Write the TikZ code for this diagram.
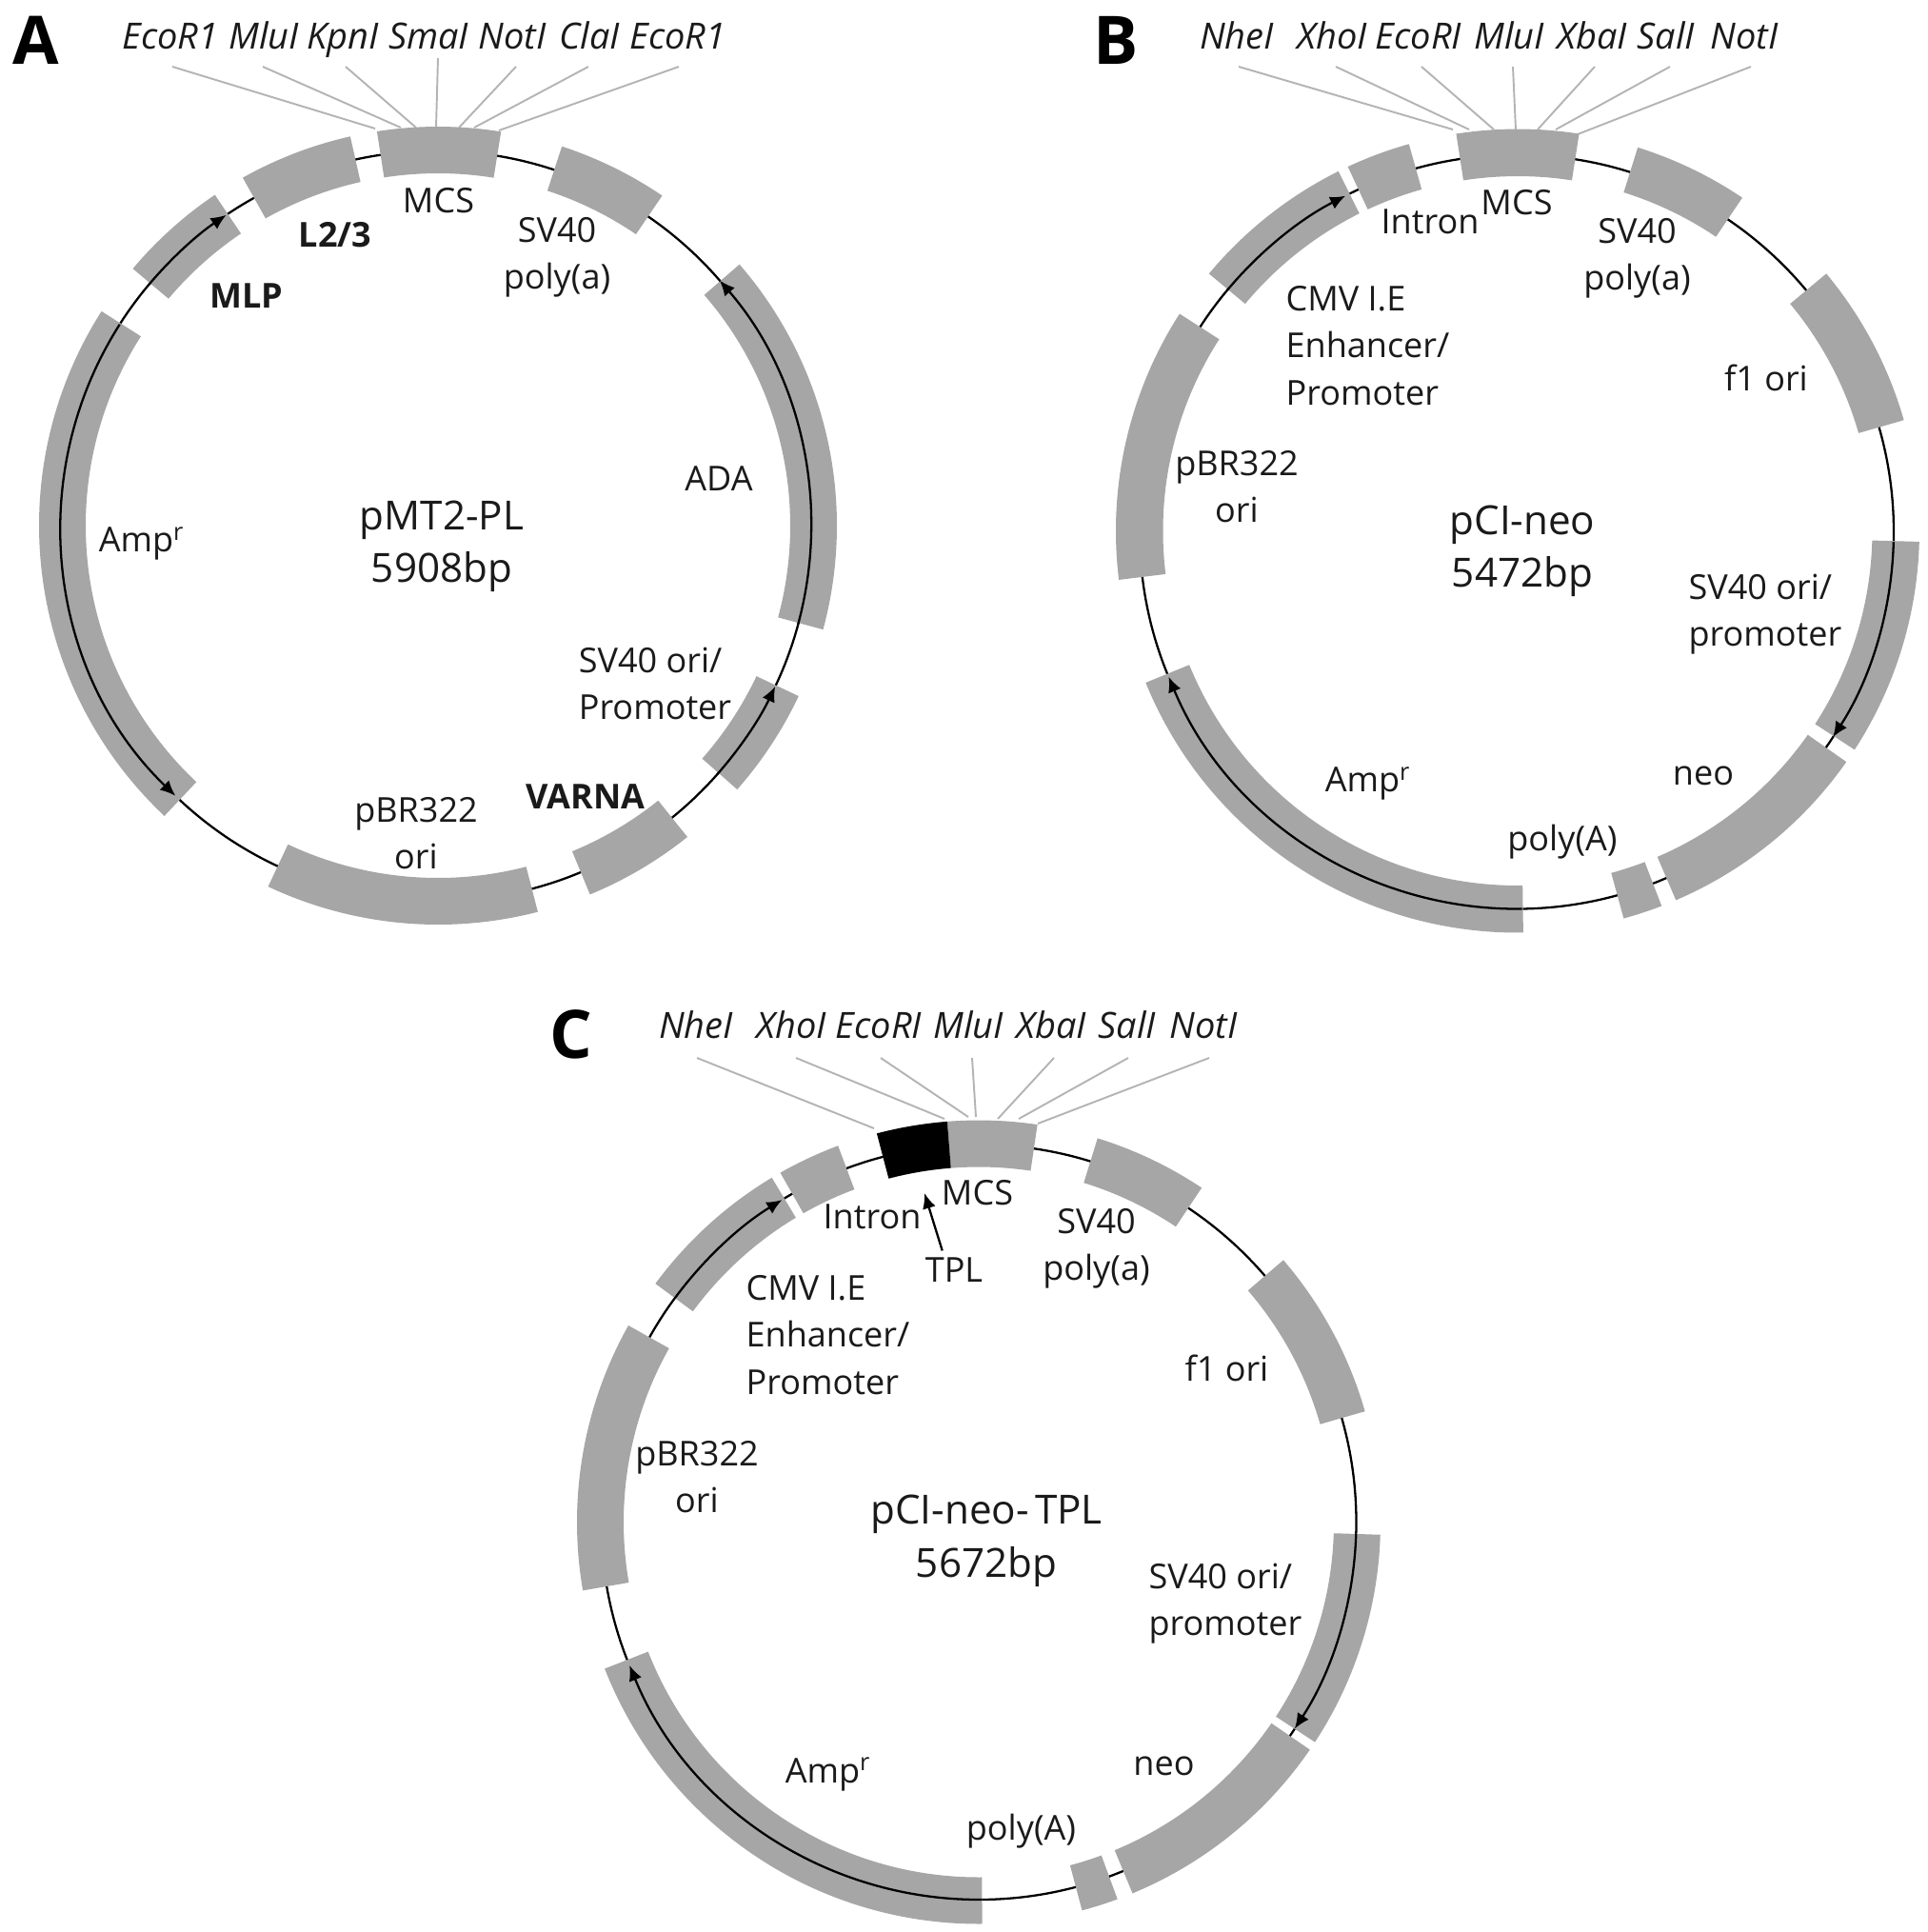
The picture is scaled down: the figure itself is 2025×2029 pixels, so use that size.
\documentclass[tikz,border=0pt]{standalone}
\usepackage{fontspec}
\setmainfont{Open Sans}
\usetikzlibrary{arrows.meta}
\definecolor{bandgray}{HTML}{A6A6A6}
\definecolor{sitegray}{HTML}{B4B4B4}
\definecolor{inkgray}{HTML}{1A1A1A}
\tikzset{
  band/.style={fill=bandgray, draw=none},
  ring/.style={black, line width=0.65pt},
  orf/.style={black, line width=0.65pt, -{Latex[length=4.6pt,width=4pt]}},
  siteline/.style={sitegray, line width=0.55pt},
  lab/.style={inner sep=0pt, align=center, text=inkgray, font=\fontsize{10.25}{14}\selectfont},
  boldlab/.style={lab, font=\fontsize{10.25}{14}\selectfont\bfseries},
  site/.style={lab, anchor=base, font=\fontsize{10.8}{14}\selectfont\itshape},
  title/.style={lab, font=\fontsize{12}{15.8}\selectfont},
  panel/.style={inner sep=0pt, text=black, font=\fontsize{20}{24}\selectfont\bfseries}
}
\begin{document}
\begin{tikzpicture}[x=0.1mm, y=0.1mm]
	\useasboundingbox (0,0) rectangle (2025,-2029);

	% plasmid A
	\node[panel] (panelA) at (38,-42) {A};
	\foreach \nm/\txt/\tx/\hx/\hy/\fx/\fy in {
		a1/EcoR1/179/181/-70/394/-135, a2/MluI/277/276/-70/421/-134, a3/KpnI/360/363/-70/437/-134,
		a4/SmaI/450/460/-61/458/-134, a5/NotI/538/542/-70/482/-134, a6/ClaI/619/618/-70/498/-134,
		a7/EcoR1/712/713/-70/524/-137}{
		\node[site] (\nm) at (\tx,-51) {\txt};
		\coordinate (\nm h) at (\hx,\hy);
		\coordinate (\nm f) at (\fx,\fy);
		\draw[siteline] (\nm h) -- (\nm f);
	}
	\begin{scope}[shift={(458,-552.4)}]
		\draw[ring] (0,0) circle (394);
	\end{scope}
	\begin{scope}[shift={(460,-552)}]
		\foreach \a/\b in {80.9/98.8, 102.7/119.3, 124/139.9, 147.5/226.7, 244.8/284.5, -67.6/-51.3, -41.4/-25.3, -15.1/40.9, 55.8/71.9}
			\fill[band] (\a:370) arc (\a:\b:370) -- (\b:419) arc (\b:\a:419) -- cycle;
	\end{scope}
	\begin{scope}[shift={(458,-552.4)}]
		\draw[orf] (139.9:394) arc (139.9:124:394);
		\draw[orf] (147.5:394) arc (147.5:226:394);
		\draw[orf] (-41.4:394) arc (-41.4:-25.3:394);
		\draw[orf] (-15.1:394) arc (-15.1:40.9:394);
	\end{scope}
	\node[lab] (mcsA) at (460.5,-211) {MCS};
	\node[boldlab] (l23A) at (352,-247) {L2/3};
	\node[boldlab] (mlpA) at (259,-311) {MLP};
	\node[lab] (polyA) at (585,-270) {SV40\\poly(a)};
	\node[lab] (adaA) at (755,-503) {ADA};
	\node[title] (nameA) at (464,-574) {pMT2-PL\\5908bp};
	\node[lab] (ampA) at (149,-571) {Amp\textsuperscript{r}};
	\node[lab, align=left] (sv40A) at (688,-718) {SV40 ori/\\Promoter};
	\node[boldlab] (varnaA) at (615,-837) {VARNA};
	\node[lab] (oriA) at (437,-875) {pBR322\\ori};

	% plasmid B
	\node[panel] (panelB) at (1172,-42) {B};
	\foreach \nm/\txt/\tx/\hx/\hy/\fx/\fy in {
		b1/NheI/1299/1301/-70/1526/-136, b2/XhoI/1399/1403/-70/1543/-136, b3/EcoRI/1490/1493/-70/1569/-136,
		b4/MluI/1585/1589/-70/1592/-136, b5/XbaI/1672/1675/-70/1615/-136, b6/SalI/1750/1754/-70/1634/-136,
		b7/NotI/1832/1839/-70/1657/-141}{
		\node[site] (\nm) at (\tx,-51) {\txt};
		\coordinate (\nm h) at (\hx,\hy);
		\coordinate (\nm f) at (\fx,\fy);
		\draw[siteline] (\nm h) -- (\nm f);
	}
	\begin{scope}[shift={(1593,-558.5)}]
		\draw[ring] (0,0) circle (396);
	\end{scope}
	\begin{scope}[shift={(1594,-557.5)}]
		\foreach \a/\b in {81.2/98.8, 105.7/115, 116.5/140.2, 147.3/187, 202.2/270.8, -74.7/-69, -66.8/-35.1, -33/-1.55, 16/39.8, 56/72.6}
			\fill[band] (\a:372.5) arc (\a:\b:372.5) -- (\b:422) arc (\b:\a:422) -- cycle;
	\end{scope}
	\begin{scope}[shift={(1593,-558.5)}]
		\draw[orf] (140.2:396) arc (140.2:117:396);
		\draw[orf] (270.8:396) arc (270.8:202.6:396);
		\draw[orf] (-1.55:396) arc (-1.55:-33:396);
	\end{scope}
	\node[lab] (mcsB) at (1593,-213) {MCS};
	\node[lab] (intronB) at (1502,-233) {Intron};
	\node[lab] (polyB) at (1719.5,-271.5) {SV40\\poly(a)};
	\node[lab, align=left] (cmvB) at (1436.5,-363) {CMV I.E\\Enhancer/\\Promoter};
	\node[lab] (f1B) at (1855,-396.5) {f1 ori};
	\node[lab] (oriB) at (1299,-511) {pBR322\\ori};
	\node[title] (nameB) at (1599,-579) {pCI-neo\\5472bp};
	\node[lab, align=left] (sv40B) at (1854,-645) {SV40 ori/\\promoter};
	\node[lab] (ampB) at (1437,-823) {Amp\textsuperscript{r}};
	\node[lab] (neoB) at (1789,-815) {neo};
	\node[lab] (pAB) at (1641,-884) {poly(A)};

	% plasmid C
	\node[panel] (panelC) at (600,-1086) {C};
	\foreach \nm/\txt/\tx/\hx/\hy/\fx/\fy in {
		c1/NheI/731/732/-1111/918/-1185, c2/XhoI/831/836/-1111/992/-1175, c3/EcoRI/923/925/-1111/1017/-1173,
		c4/MluI/1017/1021/-1111/1025/-1173, c5/XbaI/1104/1107/-1111/1048/-1175, c6/SalI/1184/1185/-1111/1070/-1175,
		c7/NotI/1264/1270/-1111/1090/-1180}{
		\node[site] (\nm) at (\tx,-1090) {\txt};
		\coordinate (\nm h) at (\hx,\hy);
		\coordinate (\nm f) at (\fx,\fy);
		\draw[siteline] (\nm h) -- (\nm f);
	}
	\begin{scope}[shift={(1028,-1598.5)}]
		\draw[ring] (0,0) circle (396.5);
		\foreach \a/\b in {81.6/94.5, 110.5/119.6, 121/143.6, 150.7/189.8, 201.4/270.5, -75.1/-69.8, -67.5/-34.5, -33.2/-1.8, 16/40.7, 56.3/72.8}
			\fill[band] (\a:373) arc (\a:\b:373) -- (\b:422) arc (\b:\a:422) -- cycle;
		\fill[black] (94.5:373) arc (94.5:104.7:373) -- (104.7:422) arc (104.7:94.5:422) -- cycle;
		\draw[orf] (143.6:396.5) arc (143.6:121.4:396.5);
		\draw[orf] (270.5:396.5) arc (270.5:202.3:396.5);
		\draw[orf] (-1.8:396.5) arc (-1.8:-33.2:396.5);
	\end{scope}
	\node[lab] (mcsC) at (1026.5,-1253) {MCS};
	\node[lab] (intronC) at (916,-1278) {Intron};
	\node[lab] (tplC) at (1002,-1334) {TPL};
	\coordinate (tplhead) at (971,-1253);
	\draw[orf] ([xshift=-3.5pt,yshift=2pt]tplC.north) -- (tplhead);
	\node[lab] (polyC) at (1151.5,-1311) {SV40\\poly(a)};
	\node[lab, align=left] (cmvC) at (869.5,-1402) {CMV I.E\\Enhancer/\\Promoter};
	\node[lab] (f1C) at (1288.5,-1436.5) {f1 ori};
	\node[lab] (oriC) at (732,-1551.5) {pBR322\\ori};
	\node[title] (nameC) at (1036,-1618.5) {{\spaceskip=0.15em pCI-neo- TPL}\\5672bp};
	\node[lab, align=left] (sv40C) at (1287,-1684) {SV40 ori/\\promoter};
	\node[lab] (ampC) at (870,-1863.5) {Amp\textsuperscript{r}};
	\node[lab] (neoC) at (1222.5,-1854.5) {neo};
	\node[lab] (pAC) at (1072.5,-1923) {poly(A)};
\end{tikzpicture}
\end{document}
